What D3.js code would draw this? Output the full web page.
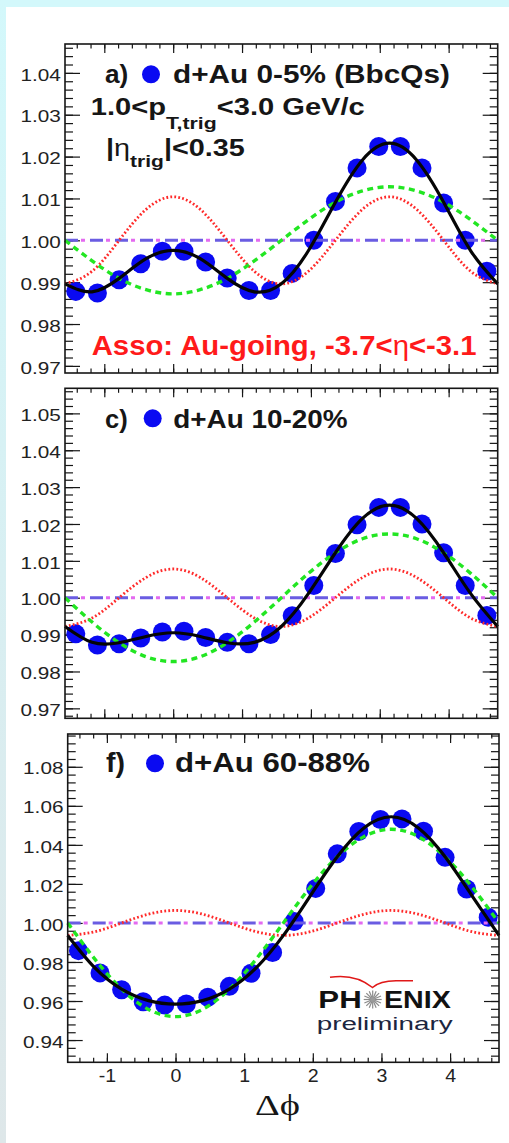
<!DOCTYPE html>
<html>
<head>
<meta charset="utf-8">
<script src="https://cdn.jsdelivr.net/npm/d3@7/dist/d3.min.js"></script>
<style>
  body { margin: 0; background: #fff; }
  svg { display: block; }
</style>
</head>
<body>
<script>
// bin centres of the measured points (rad)
var phiBins = [ -1.414, -1.100, -0.785, -0.471, -0.157, 0.157, 0.471, 0.785, 1.100, 1.414,
    1.728, 2.042, 2.356, 2.670, 2.985, 3.299, 3.613, 3.927, 4.241, 4.555 ];
var phiGrid = [ -1.571, -1.178, -0.785, -0.393, 0.000, 0.393, 0.785, 1.178, 1.571,
    1.963, 2.356, 2.749, 3.142, 3.534, 3.927, 4.320, 4.712 ];

var panelIds = [ "a)", "c)", "f)" ];
var panelLabels = [ "d+Au 0-5% (BbcQs)", "d+Au 10-20%", "d+Au 60-88%" ];
var xMajorTicks = [ -1, 0, 1, 2, 3, 4 ];
var yDomains = [ [ 0.9683, 1.0469 ], [ 0.9673, 1.0568 ], [ 0.9286, 1.0968 ] ];
var yMajorTicks = [
    [ 0.97, 0.98, 0.99, 1.00, 1.01, 1.02, 1.03, 1.04 ],
    [ 0.97, 0.98, 0.99, 1.00, 1.01, 1.02, 1.03, 1.04, 1.05 ],
    [ 0.94, 0.96, 0.98, 1.00, 1.02, 1.04, 1.06, 1.08 ] ];
var yMinorSteps = [ 0.002, 0.002, 0.004 ];

// panel a) d+Au 0-5%
var dataA = [ 0.9878, 0.9874, 0.9906, 0.9944, 0.9974, 0.9974, 0.9948, 0.9910, 0.9880, 0.9880,
    0.9921, 1.0000, 1.0093, 1.0173, 1.0224, 1.0224, 1.0173, 1.0089, 1.0000, 0.9926 ];
var fitA = [ 0.9896, 0.9877, 0.9909, 0.9956, 0.9976, 0.9956, 0.9909, 0.9877, 0.9896,
    0.9975, 1.0091, 1.0192, 1.0232, 1.0192, 1.0091, 0.9975, 0.9896 ];
var v1A = [ 1.0000, 0.9951, 0.9909, 0.9882, 0.9872, 0.9882, 0.9909, 0.9951, 1.0000,
    1.0049, 1.0091, 1.0118, 1.0128, 1.0118, 1.0091, 1.0049, 1.0000 ];
var v2A = [ 0.9896, 0.9926, 1.0000, 1.0074, 1.0104, 1.0074, 1.0000, 0.9926, 0.9896,
    0.9926, 1.0000, 1.0074, 1.0104, 1.0074, 1.0000, 0.9926, 0.9896 ];
var v3A = [ 1.0000, 1.0000, 1.0000, 1.0000, 1.0000, 1.0000, 1.0000, 1.0000, 1.0000,
    1.0000, 1.0000, 1.0000, 1.0000, 1.0000, 1.0000, 1.0000, 1.0000 ];

// panel c) d+Au 10-20%
var dataC = [ 0.9902, 0.9872, 0.9875, 0.9891, 0.9907, 0.9909, 0.9892, 0.9879, 0.9875, 0.9900,
    0.9951, 1.0033, 1.0120, 1.0198, 1.0245, 1.0245, 1.0200, 1.0122, 1.0033, 0.9952 ];
var fitC = [ 0.9922, 0.9879, 0.9878, 0.9895, 0.9905, 0.9895, 0.9878, 0.9879, 0.9922,
    1.0011, 1.0122, 1.0215, 1.0251, 1.0215, 1.0122, 1.0011, 0.9922 ];
var v1C = [ 1.0000, 0.9934, 0.9878, 0.9840, 0.9827, 0.9840, 0.9878, 0.9934, 1.0000,
    1.0066, 1.0122, 1.0160, 1.0173, 1.0160, 1.0122, 1.0066, 1.0000 ];
var v2C = [ 0.9922, 0.9945, 1.0000, 1.0055, 1.0078, 1.0055, 1.0000, 0.9945, 0.9922,
    0.9945, 1.0000, 1.0055, 1.0078, 1.0055, 1.0000, 0.9945, 0.9922 ];
var v3C = [ 1.0000, 1.0000, 1.0000, 1.0000, 1.0000, 1.0000, 1.0000, 1.0000, 1.0000,
    1.0000, 1.0000, 1.0000, 1.0000, 1.0000, 1.0000, 1.0000, 1.0000 ];

// panel f) d+Au 60-88%
var dataF = [ 0.9858, 0.9744, 0.9658, 0.9596, 0.9579, 0.9585, 0.9619, 0.9675, 0.9742, 0.9849,
    1.0007, 1.0177, 1.0354, 1.0468, 1.0530, 1.0533, 1.0470, 1.0336, 1.0174, 1.0029 ];
var fitF = [ 0.9936, 0.9771, 0.9661, 0.9602, 0.9584, 0.9602, 0.9661, 0.9771, 0.9936,
    1.0139, 1.0339, 1.0488, 1.0544, 1.0488, 1.0339, 1.0139, 0.9936 ];
var v1F = [ 1.0000, 0.9816, 0.9661, 0.9557, 0.9520, 0.9557, 0.9661, 0.9816, 1.0000,
    1.0184, 1.0339, 1.0443, 1.0480, 1.0443, 1.0339, 1.0184, 1.0000 ];
var v2F = [ 0.9936, 0.9955, 1.0000, 1.0045, 1.0064, 1.0045, 1.0000, 0.9955, 0.9936,
    0.9955, 1.0000, 1.0045, 1.0064, 1.0045, 1.0000, 0.9955, 0.9936 ];
var v3F = [ 1.0000, 1.0000, 1.0000, 1.0000, 1.0000, 1.0000, 1.0000, 1.0000, 1.0000,
    1.0000, 1.0000, 1.0000, 1.0000, 1.0000, 1.0000, 1.0000, 1.0000 ];

var series = [
    { pts: dataA, fit: fitA, v1: v1A, v2: v2A, v3: v3A },
    { pts: dataC, fit: fitC, v1: v1C, v2: v2C, v3: v3C },
    { pts: dataF, fit: fitF, v1: v1F, v2: v2F, v3: v3F } ];

// frame boxes and title placement, in page pixels
var layout = [
    { x0: 65, x1: 497.7, y0: 44, y1: 373, tx: 105, ty: 83.3, idW: 23.3, cx: 151, cy: 74.3, lx: 173, lw: 277, fs: 25.5 },
    { x0: 65, x1: 497.7, y0: 388.3, y1: 718.3, tx: 105, ty: 428.3, idW: 22.7, cx: 152.7, cy: 418.3, lx: 173.3, lw: 174.4, fs: 25.5 },
    { x0: 67.7, x1: 499, y0: 734, y1: 1062.3, tx: 106, ty: 771.7, idW: 19, cx: 155, cy: 763.3, lx: 175, lw: 195, fs: 27, xLabels: true } ];

var SANS = "'Liberation Sans', Arial, Helvetica, sans-serif";
var INK = "#161616";
var BLUE = "#0a0af2";

var svg = d3.select( "body" ).append( "svg" )
    .attr( "width", 509 )
    .attr( "height", 1143 );

var defs = svg.append( "defs" );
var grad = defs.append( "linearGradient" ).attr( "id", "edge" )
    .attr( "x1", 0 ).attr( "y1", 0 ).attr( "x2", 0 ).attr( "y2", 1 );
grad.append( "stop" ).attr( "offset", 0 ).attr( "stop-color", "#d3f8fb" );
grad.append( "stop" ).attr( "offset", 0.5 ).attr( "stop-color", "#d8eff2" );
grad.append( "stop" ).attr( "offset", 1 ).attr( "stop-color", "#dee7e9" );

svg.append( "rect" ).attr( "width", 509 ).attr( "height", 1143 ).attr( "fill", "#fff" );
svg.append( "rect" ).attr( "width", 509 ).attr( "height", 7 ).attr( "fill", "#d3f8fb" );
svg.append( "rect" ).attr( "width", 6 ).attr( "height", 1143 ).attr( "fill", "url(#edge)" );

// text placed at (x, y) and stretched horizontally to the given width
function putText( parent, x, y, width, build ) {
    var t = parent.append( "text" ).attr( "font-family", SANS ).attr( "fill", INK );
    build( t );
    var w = t.node().getBBox().width;
    t.attr( "transform", "translate(" + x + "," + y + ") scale(" + ( width / w ) + ",1)" );
    return t;
}

function minorTicks( dom, step ) {
    var out = [];
    for ( var v = Math.ceil( dom[ 0 ] / step ) * step; v <= dom[ 1 ]; v += step ) out.push( +v.toFixed( 4 ) );
    return out;
}

function styleAxis( sel ) {
    sel.select( ".domain" ).remove();
    sel.selectAll( "line" ).attr( "stroke", INK ).attr( "stroke-width", 1.2 );
}

layout.forEach( function( p, i ) {
    var s = series[ i ];
    var g = svg.append( "g" );
    var x = d3.scaleLinear().domain( [ -Math.PI / 2, 3 * Math.PI / 2 ] ).range( [ p.x0, p.x1 ] );
    var y = d3.scaleLinear().domain( yDomains[ i ] ).range( [ p.y1, p.y0 ] );

    var yMinor = minorTicks( yDomains[ i ], yMinorSteps[ i ] );
    var xMinor = minorTicks( [ -1.5, 4.7 ], 0.2 );

    // left axis with labels
    var left = g.append( "g" ).attr( "transform", "translate(" + p.x0 + ",0)" )
        .call( d3.axisLeft( y ).tickValues( yMajorTicks[ i ] ).tickSize( -15 ).tickPadding( 3.5 )
            .tickFormat( d3.format( ".2f" ) ) );
    styleAxis( left );
    left.selectAll( "text" )
        .attr( "font-family", SANS ).attr( "font-size", 17 ).attr( "fill", "#222" )
        .attr( "dy", "0.42em" ).attr( "transform", "scale(1.22,1)" );
    styleAxis( g.append( "g" ).attr( "transform", "translate(" + p.x0 + ",0)" )
        .call( d3.axisLeft( y ).tickValues( yMinor ).tickSize( -8 ).tickFormat( "" ) ) );
    styleAxis( g.append( "g" ).attr( "transform", "translate(" + p.x1 + ",0)" )
        .call( d3.axisRight( y ).tickValues( yMajorTicks[ i ] ).tickSize( -15 ).tickFormat( "" ) ) );
    styleAxis( g.append( "g" ).attr( "transform", "translate(" + p.x1 + ",0)" )
        .call( d3.axisRight( y ).tickValues( yMinor ).tickSize( -8 ).tickFormat( "" ) ) );

    styleAxis( g.append( "g" ).attr( "transform", "translate(0," + p.y0 + ")" )
        .call( d3.axisTop( x ).tickValues( xMajorTicks ).tickSize( -9 ).tickFormat( "" ) ) );
    styleAxis( g.append( "g" ).attr( "transform", "translate(0," + p.y0 + ")" )
        .call( d3.axisTop( x ).tickValues( xMinor ).tickSize( -4.5 ).tickFormat( "" ) ) );
    var bottom = g.append( "g" ).attr( "transform", "translate(0," + p.y1 + ")" )
        .call( d3.axisBottom( x ).tickValues( xMajorTicks ).tickSize( -9 ).tickPadding( 7.5 )
            .tickFormat( p.xLabels ? function( d ) { return String( d ); } : "" ) );
    styleAxis( bottom );
    bottom.selectAll( "text" )
        .attr( "font-family", SANS ).attr( "font-size", 17.5 ).attr( "fill", "#222" )
        .attr( "transform", "scale(1.12,1)" );
    styleAxis( g.append( "g" ).attr( "transform", "translate(0," + p.y1 + ")" )
        .call( d3.axisBottom( x ).tickValues( xMinor ).tickSize( -4.5 ).tickFormat( "" ) ) );

    // points
    g.append( "g" ).selectAll( "circle" )
        .data( d3.zip( phiBins, s.pts ) )
        .join( "circle" )
        .attr( "cx", function( d ) { return x( d[ 0 ] ); } )
        .attr( "cy", function( d ) { return y( d[ 1 ] ); } )
        .attr( "r", 9.5 )
        .attr( "fill", BLUE );

    var line = d3.line()
        .x( function( d, k ) { return x( phiGrid[ k ] ); } )
        .y( function( d ) { return y( d ); } )
        .curve( d3.curveNatural );

    var curves = g.append( "g" ).attr( "fill", "none" );
    curves.append( "path" ).attr( "d", line( s.v3 ) )
        .attr( "stroke", "#6a5ce2" ).attr( "stroke-width", 3 ).attr( "stroke-dasharray", "13 12" );
    curves.append( "path" ).attr( "d", line( s.v3 ) )
        .attr( "stroke", "#e46af0" ).attr( "stroke-width", 3 ).attr( "stroke-dasharray", "0 16 4 5" );
    curves.append( "path" ).attr( "d", line( s.v2 ) )
        .attr( "stroke", "#ff2a2a" ).attr( "stroke-width", 2.8 ).attr( "stroke-dasharray", "1.8 2.2" );
    curves.append( "path" ).attr( "d", line( s.v1 ) )
        .attr( "stroke", "#22e622" ).attr( "stroke-width", 3.4 ).attr( "stroke-dasharray", "6 4.5" );
    curves.append( "path" ).attr( "d", line( s.fit ) )
        .attr( "stroke", "#050505" ).attr( "stroke-width", 3.2 );

    // frame
    g.append( "rect" )
        .attr( "x", p.x0 ).attr( "y", p.y0 )
        .attr( "width", p.x1 - p.x0 ).attr( "height", p.y1 - p.y0 )
        .attr( "fill", "none" ).attr( "stroke", INK ).attr( "stroke-width", 1.6 );

    // title line
    putText( g, p.tx, p.ty, p.idW, function( t ) {
        t.attr( "font-size", p.fs ).attr( "font-weight", "bold" ).text( panelIds[ i ] );
    } );
    g.append( "circle" ).attr( "cx", p.cx ).attr( "cy", p.cy ).attr( "r", 9 ).attr( "fill", BLUE );
    putText( g, p.lx, p.ty, p.lw, function( t ) {
        t.attr( "font-size", p.fs ).attr( "font-weight", "bold" ).text( panelLabels[ i ] );
    } );
} );

// kinematic cuts in panel a)
var notes = svg.append( "g" );
putText( notes, 90.7, 115, 274.3, function( t ) {
    t.attr( "font-size", 23.3 ).attr( "font-weight", "bold" );
    t.append( "tspan" ).text( "1.0<p" );
    t.append( "tspan" ).attr( "font-size", 17 ).attr( "dy", 14 ).text( "T,trig" );
    t.append( "tspan" ).attr( "dy", -14 ).text( "<3.0 GeV/c" );
} );
putText( notes, 106, 155.7, 139, function( t ) {
    t.attr( "font-size", 23.3 ).attr( "font-weight", "bold" );
    t.append( "tspan" ).text( "|" );
    t.append( "tspan" ).attr( "font-weight", "normal" ).text( "η" );
    t.append( "tspan" ).attr( "font-size", 17 ).attr( "dy", 11 ).text( "trig" );
    t.append( "tspan" ).attr( "dy", -11 ).text( "|<0.35" );
} );
putText( notes, 91.7, 355, 385, function( t ) {
    t.attr( "font-size", 28 ).attr( "font-weight", "bold" ).attr( "fill", "#ff1a1a" );
    t.append( "tspan" ).text( "Asso: Au-going, -3.7<" );
    t.append( "tspan" ).attr( "font-weight", "normal" ).text( "η" );
    t.append( "tspan" ).text( "<-3.1" );
} );

// axis title
putText( svg, 255, 1115, 45, function( t ) {
    t.attr( "font-family", "'Liberation Serif', 'Times New Roman', serif" )
        .attr( "font-size", 30 ).text( "Δϕ" );
} );

// PHENIX preliminary logo
var logo = svg.append( "g" );
logo.append( "path" )
    .attr( "d", "M330,977.3 C348,974.5 362,979 372.5,987.5 C379,981.5 388,980.7 396,980.7 L413,980.7" )
    .attr( "fill", "none" ).attr( "stroke", "#e01818" ).attr( "stroke-width", 1.6 );
putText( logo, 318.3, 1008.3, 43.4, function( t ) {
    t.attr( "font-size", 23 ).attr( "font-weight", "bold" ).attr( "fill", "#111" ).text( "PH" );
} );
putText( logo, 384, 1008.3, 67.7, function( t ) {
    t.attr( "font-size", 23 ).attr( "font-weight", "bold" ).attr( "fill", "#111" ).text( "ENIX" );
} );
var star = logo.append( "g" ).attr( "transform", "translate(372.7,999.5)" );
star.selectAll( "line" )
    .data( d3.range( 16 ) )
    .join( "line" )
    .attr( "x1", 0 ).attr( "y1", 0 )
    .attr( "x2", function( k ) { return 9 * Math.cos( k * Math.PI / 8 ); } )
    .attr( "y2", function( k ) { return 9 * Math.sin( k * Math.PI / 8 ); } )
    .attr( "stroke", "#8a8a8a" ).attr( "stroke-width", 1.2 );
star.append( "circle" ).attr( "r", 2.5 ).attr( "fill", "#9a9a9a" );
putText( logo, 316.7, 1030, 136.6, function( t ) {
    t.attr( "font-size", 19 ).attr( "fill", "#1b2540" ).text( "preliminary" );
} );
</script>
</body>
</html>
